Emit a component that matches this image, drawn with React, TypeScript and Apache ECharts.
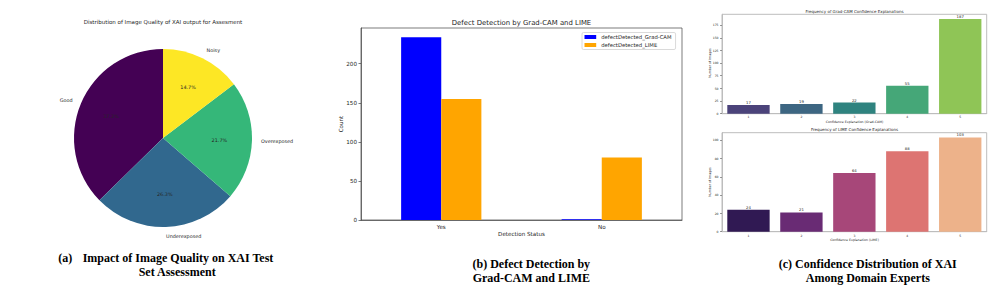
import React, { useEffect, useRef } from "react";
import * as echarts from "echarts";

// ---------- data ----------
const qualityLabels = ["Good", "Underexposed", "Overexposed", "Noisy"];
const qualityCounts = [112, 79, 65, 44];

const detectionCategories = ["Yes", "No"];
const gradcamDetected = [234, 1];
const limeDetected = [155, 80];
const detectionTicks = [0, 50, 100, 150, 200];

const confidenceLevels = ["1", "2", "3", "4", "5"];
const gradcamConfidence = [17, 19, 22, 55, 187];
const limeConfidence = [24, 21, 64, 88, 103];
const gradcamTicks = [0, 25, 50, 75, 100, 125, 150, 175];
const limeTicks = [0, 20, 40, 60, 80, 100];

// ---------- styles ----------
const pieColors = ["#440154", "#31688e", "#35b779", "#fde725"];
const viridisBars = ["#4b437a", "#3d6682", "#2f837f", "#45a778", "#8fc556"];
const magmaBars = ["#301953", "#692b74", "#a74779", "#dd7472", "#edb28a"];
const FONT = "DejaVu Sans";
const SERIF = "Liberation Serif";
const INK = "#262626";

function txt(text: string, x: number, y: number, size: number, opts: any = {}) {
  const align = opts.align || "center";
  return {
    type: "text",
    x,
    y,
    rotation: opts.rotation || 0,
    silent: true,
    style: {
      text,
      fontSize: size,
      fontFamily: opts.family || FONT,
      fontWeight: opts.weight || "normal",
      fill: opts.color || INK,
      align,
      textAlign: align,
      verticalAlign: "middle",
      textVerticalAlign: "middle",
    },
  };
}

export default function App() {
  const ref = useRef<HTMLDivElement>(null);

  useEffect(() => {
    if (!ref.current) return;
    const chart = echarts.init(ref.current, null, { renderer: "svg" });

    const pieData = qualityLabels.map((n, i) => ({
      name: n,
      value: qualityCounts[i],
      itemStyle: { color: pieColors[i] },
    }));
    const pieDataClear = qualityLabels.map((n, i) => ({
      name: n,
      value: qualityCounts[i],
      itemStyle: { color: "rgba(0,0,0,0)" },
    }));

    const bAxisLine = { lineStyle: { color: "#444", width: 0.7 } };
    const cAxisLine = { lineStyle: { color: "#bdbdbd", width: 1 } };

    const option: any = {
      animation: false,
      grid: [
        { left: 361, top: 28, width: 321, height: 192, show: true, borderColor: "#444", borderWidth: 0.7, backgroundColor: "transparent" },
        { left: 722, top: 14.3, width: 264.7, height: 99.4, show: true, borderColor: "#bdbdbd", borderWidth: 1, backgroundColor: "transparent" },
        { left: 722, top: 132.7, width: 264.7, height: 99, show: true, borderColor: "#bdbdbd", borderWidth: 1, backgroundColor: "transparent" },
      ],
      legend: {
        data: ["defectDetected_Grad-CAM", "defectDetected_LIME"],
        orient: "vertical",
        left: 582,
        top: 32.5,
        icon: "rect",
        itemWidth: 11.7,
        itemHeight: 4,
        itemGap: 3,
        padding: [2, 4, 2, 2.5],
        borderColor: "#d0d0d0",
        borderWidth: 0.8,
        borderRadius: 1.5,
        textStyle: { fontSize: 5.3, color: INK, fontFamily: FONT },
        selectedMode: false,
      },
      xAxis: [
        {
          gridIndex: 0,
          type: "category",
          data: detectionCategories,
          axisLine: bAxisLine,
          axisTick: { alignWithLabel: true, length: 2.5, lineStyle: { color: "#444", width: 0.7 } },
          axisLabel: { fontSize: 5.6, color: INK, fontFamily: FONT, margin: 3.5 },
        },
        {
          gridIndex: 1,
          type: "category",
          data: confidenceLevels,
          axisLine: cAxisLine,
          axisTick: { alignWithLabel: true, length: 2, lineStyle: { color: "#555", width: 0.6 } },
          axisLabel: { fontSize: 3, color: INK, fontFamily: FONT, margin: 2 },
        },
        {
          gridIndex: 2,
          type: "category",
          data: confidenceLevels,
          axisLine: cAxisLine,
          axisTick: { alignWithLabel: true, length: 2, lineStyle: { color: "#555", width: 0.6 } },
          axisLabel: { fontSize: 3, color: INK, fontFamily: FONT, margin: 2.5 },
        },
      ],
      yAxis: [
        {
          gridIndex: 0,
          type: "value",
          min: 0,
          max: Math.max(...gradcamDetected, ...limeDetected) * 1.05,
          interval: 50,
          splitLine: { show: false },
          axisLine: { show: true, ...bAxisLine },
          axisTick: { show: true, length: 2.5, customValues: detectionTicks, lineStyle: { color: "#444", width: 0.7 } },
          axisLabel: { fontSize: 5.6, color: INK, fontFamily: FONT, margin: 4, customValues: detectionTicks },
        },
        {
          gridIndex: 1,
          type: "value",
          min: 0,
          max: Math.max(...gradcamConfidence) * 1.05,
          interval: 25,
          splitLine: { show: false },
          axisLine: { show: true, ...cAxisLine },
          axisTick: { show: true, length: 2, customValues: gradcamTicks, lineStyle: { color: "#555", width: 0.6 } },
          axisLabel: { fontSize: 3, color: INK, fontFamily: FONT, margin: 3.5, customValues: gradcamTicks },
        },
        {
          gridIndex: 2,
          type: "value",
          min: 0,
          max: Math.max(...limeConfidence) * 1.05,
          interval: 20,
          splitLine: { show: false },
          axisLine: { show: true, ...cAxisLine },
          axisTick: { show: true, length: 2, customValues: limeTicks, lineStyle: { color: "#555", width: 0.6 } },
          axisLabel: { fontSize: 3, color: INK, fontFamily: FONT, margin: 3.5, customValues: limeTicks },
        },
      ],
      series: [
        {
          type: "pie",
          center: [163, 138],
          radius: 89,
          startAngle: 90,
          clockwise: false,
          avoidLabelOverlap: false,
          silent: true,
          data: pieData,
          label: {
            show: true,
            position: "outside",
            formatter: "{b}",
            fontSize: 4.9,
            color: INK,
            fontFamily: FONT,
            distanceToLabelLine: 0,
            alignTo: "none",
          },
          labelLine: { show: false, length: 9, length2: 0 },
          emphasis: { disabled: true },
        },
        {
          type: "pie",
          center: [163, 138],
          radius: [17.8, 89],
          startAngle: 90,
          clockwise: false,
          avoidLabelOverlap: false,
          silent: true,
          percentPrecision: 1,
          data: pieDataClear,
          label: {
            show: true,
            position: "inside",
            formatter: "{d}%",
            fontSize: 4.9,
            color: INK,
            fontFamily: FONT,
          },
          labelLine: { show: false },
          emphasis: { disabled: true },
        },
        {
          type: "bar",
          name: "defectDetected_Grad-CAM",
          xAxisIndex: 0,
          yAxisIndex: 0,
          data: gradcamDetected,
          itemStyle: { color: "#0000ff" },
          barGap: "0%",
          barCategoryGap: "50%",
          silent: true,
        },
        {
          type: "bar",
          name: "defectDetected_LIME",
          xAxisIndex: 0,
          yAxisIndex: 0,
          data: limeDetected,
          itemStyle: { color: "#ffa500" },
          barGap: "0%",
          barCategoryGap: "50%",
          silent: true,
        },
        {
          type: "bar",
          xAxisIndex: 1,
          yAxisIndex: 1,
          data: gradcamConfidence.map((v, i) => ({ value: v, itemStyle: { color: viridisBars[i] } })),
          barCategoryGap: "20%",
          silent: true,
          label: { show: true, position: "top", distance: 0.5, fontSize: 3.8, color: INK, fontFamily: FONT },
        },
        {
          type: "bar",
          xAxisIndex: 2,
          yAxisIndex: 2,
          data: limeConfidence.map((v, i) => ({ value: v, itemStyle: { color: magmaBars[i] } })),
          barCategoryGap: "20%",
          silent: true,
          label: { show: true, position: "top", distance: 0.5, fontSize: 3.8, color: INK, fontFamily: FONT },
        },
      ],
      graphic: [
        // (a)
        txt("Distribution of Image Quality of XAI output for Assesment", 163, 22, 5.5),
        txt("(a)", 58.3, 257.7, 12, { family: SERIF, weight: "bold", align: "left", color: "#000" }),
        txt("Impact of Image Quality on XAI Test", 178, 257.7, 12, { family: SERIF, weight: "bold", color: "#000" }),
        txt("Set Assessment", 177.2, 271.7, 12, { family: SERIF, weight: "bold", color: "#000" }),
        // (b)
        txt("Defect Detection by Grad-CAM and LIME", 521.5, 22.7, 6.9),
        txt("Count", 340.7, 124, 5.6, { rotation: Math.PI / 2 }),
        txt("Detection Status", 521.5, 234.3, 5.6),
        txt("(b) Defect Detection by", 531.3, 264, 12, { family: SERIF, weight: "bold", color: "#000" }),
        txt("Grad-CAM and LIME", 531.3, 278.3, 12, { family: SERIF, weight: "bold", color: "#000" }),
        // (c)
        txt("Frequency of Grad-CAM Confidence Explanations", 854.5, 11, 4),
        txt("Confidence Explanation (Grad-CAM)", 854.5, 122, 3.2),
        txt("Number of Images", 710, 63, 3.2, { rotation: Math.PI / 2 }),
        txt("Frequency of LIME Confidence Explanations", 854.5, 129, 4),
        txt("Confidence Explanation (LIME)", 854.5, 240, 3.2),
        txt("Number of Images", 710, 182, 3.2, { rotation: Math.PI / 2 }),
        txt("(c) Confidence Distribution of XAI", 867.8, 264.3, 12, { family: SERIF, weight: "bold", color: "#000" }),
        txt("Among Domain Experts", 867.8, 278.3, 12, { family: SERIF, weight: "bold", color: "#000" }),
      ],
    };

    chart.setOption(option);
    return () => chart.dispose();
  }, []);

  return (
    <div
      ref={ref}
      style={{ position: "absolute", left: 0, top: 0, width: 997, height: 287, background: "#fff" }}
    />
  );
}
